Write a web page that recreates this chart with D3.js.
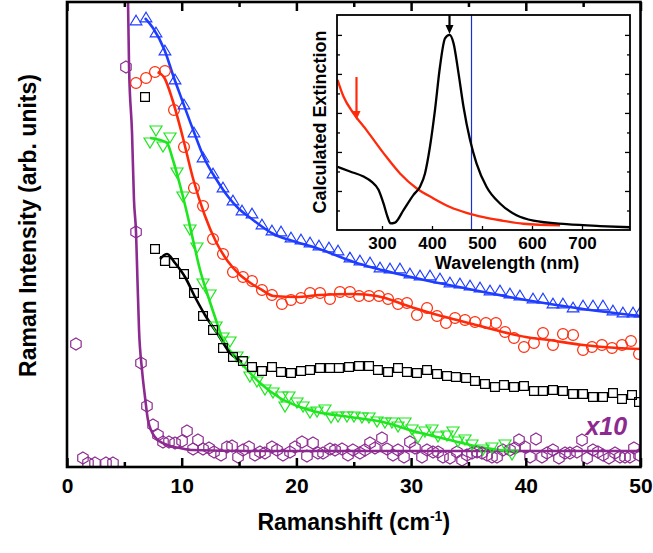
<!DOCTYPE html>
<html><head><meta charset="utf-8">
<script src="https://cdn.jsdelivr.net/npm/d3@7"></script>
<style>body{margin:0;background:#fff}svg{display:block;font-family:"Liberation Sans",Arial,sans-serif}</style>
</head><body>
<svg id="c" width="653" height="553"></svg>
<script>
// ---------- main plot data ----------
const xTicks = [0,10,20,30,40,50];
const xMinor = [5,15,25,35,45];

const blueX = [6.02,6.89,7.76,8.54,9.42,10.20,11.07,11.86,12.73,13.60,14.47,15.26,16.13,17.00,17.87,18.66,19.53,20.40,21.19,21.97,22.84,23.63,24.67,25.54,26.42,27.29,28.16,29.03,29.90,30.78,31.65,32.52,33.39,34.26,35.14,36.01,36.88,37.75,38.62,39.49,40.63,41.50,42.37,43.24,44.12,44.99,45.86,46.73,47.60,48.47,49.35,49.96];
const blueY = [4.47,4.50,4.35,4.17,3.88,3.63,3.35,3.10,2.94,2.80,2.67,2.57,2.54,2.43,2.37,2.36,2.30,2.28,2.25,2.22,2.20,2.17,2.10,2.07,2.05,2.00,1.99,1.99,1.94,1.92,1.92,1.89,1.85,1.84,1.82,1.80,1.77,1.77,1.74,1.72,1.69,1.69,1.64,1.64,1.60,1.62,1.62,1.62,1.57,1.55,1.55,1.55];
const blueFitX = [6.8,7.5,8.5,9.3,10,11,12,13,14,15,16,18,20,22,25,30,35,40,45,50];
const blueFitY = [4.49,4.39,4.17,3.90,3.68,3.37,3.08,2.88,2.71,2.58,2.49,2.33,2.25,2.18,2.05,1.90,1.78,1.67,1.58,1.51];

const redX = [6.02,6.89,7.67,8.54,9.33,10.20,11.07,11.86,12.73,13.60,14.47,15.34,16.13,17.00,17.87,18.74,19.53,20.40,21.19,22.06,22.93,23.80,24.67,25.46,26.33,27.20,27.99,28.86,29.64,30.51,31.39,32.26,33.04,33.83,34.70,35.57,36.53,37.40,38.19,38.97,39.84,40.71,41.50,42.37,43.24,44.12,44.99,45.77,46.64,47.52,48.39,49.17,49.87];
const redY = [3.84,3.89,3.95,3.96,3.57,3.20,2.79,2.61,2.28,2.13,1.95,1.90,1.86,1.77,1.72,1.63,1.67,1.69,1.74,1.74,1.68,1.75,1.75,1.71,1.71,1.71,1.68,1.63,1.64,1.52,1.59,1.51,1.44,1.49,1.47,1.45,1.44,1.44,1.35,1.29,1.20,1.24,1.34,1.22,1.33,1.32,1.17,1.20,1.22,1.19,1.22,1.26,1.13];
const redFitX = [7.9,8.5,9.2,10,11,12,13,14,15,16,17,18,20,22,25,27,30,32,34,36,38,40,42,45,48,50];
const redFitY = [3.95,3.89,3.67,3.34,2.88,2.52,2.25,2.06,1.93,1.84,1.77,1.71,1.70,1.72,1.73,1.71,1.60,1.53,1.47,1.41,1.35,1.30,1.27,1.22,1.19,1.18];

const blackX = [6.80,7.67,8.54,9.33,10.20,11.07,11.86,12.73,13.60,14.47,15.34,16.13,17.00,17.87,18.66,19.53,20.40,21.19,22.06,22.93,23.71,24.59,25.46,26.33,27.11,27.99,28.86,29.64,30.51,31.39,32.26,33.13,33.91,34.79,35.57,36.44,37.31,38.10,38.97,39.84,40.71,41.50,42.37,43.24,44.12,44.99,45.86,46.73,47.60,48.39,49.26,49.87];
const blackY = [3.70,2.18,2.06,2.04,1.93,1.74,1.51,1.37,1.19,1.10,1.06,1.00,0.96,1.00,0.95,0.94,0.96,0.97,0.99,0.99,0.99,1.00,1.01,1.01,0.97,0.95,0.99,0.95,0.94,0.97,0.93,0.91,0.90,0.89,0.86,0.83,0.80,0.82,0.80,0.81,0.76,0.76,0.77,0.76,0.73,0.73,0.70,0.70,0.74,0.68,0.72,0.65];
const blackFitX = [8.11,8.72,9.42,10.29,11.16,12.03,13.08,14.21,15.26];
const blackFitY = [2.08,2.13,2.04,1.90,1.70,1.52,1.34,1.14,1.05];

const greenX = [7.24,7.76,8.37,8.98,9.59,10.11,10.72,11.33,11.86,12.47,12.99,13.60,14.21,14.82,15.34,15.95,16.56,17.26,17.96,18.74,19.01,19.35,20.05,20.58,21.19,21.80,22.49,23.02,23.63,24.41,25.02,25.72,26.33,27.03,27.72,28.33,28.86,29.47,30.08,30.60,31.21,31.82,32.35,33.13,33.65,34.09,34.70,35.31,36.27,37.05,38.19,38.80];
const greenY = [3.24,3.36,3.20,3.29,2.94,2.70,2.37,2.19,1.83,1.72,1.40,1.29,1.25,1.10,1.05,0.90,0.85,0.77,0.74,0.70,0.60,0.70,0.64,0.60,0.54,0.55,0.57,0.49,0.50,0.50,0.50,0.49,0.49,0.45,0.44,0.44,0.40,0.44,0.37,0.29,0.35,0.37,0.30,0.31,0.35,0.25,0.27,0.22,0.17,0.19,0.22,0.12];
const greenFitX = [7.24,8.11,8.72,9.24,9.85,10.46,10.99,11.60,12.21,12.90,13.60,14.82,16.83,18.57,20.31,21.80,24.67,27.55,30.51,33.39,36.01,39.06];
const greenFitY = [3.29,3.27,3.24,3.07,2.82,2.54,2.27,1.97,1.74,1.50,1.27,1.09,0.84,0.69,0.60,0.55,0.50,0.45,0.35,0.27,0.20,0.15];

const purpleX = [0.78,1.39,1.83,2.44,3.40,4.01,5.14,6.02,6.45,6.97,7.50,7.93,8.37,8.89,9.42,10.03,10.46,10.99,11.42,11.86,12.38,12.82,13.43,13.95,14.39,14.91,15.34,15.87,16.39,16.83,17.26,17.87,18.31,18.83,19.44,19.88,20.49,20.92,21.45,21.88,22.32,22.93,23.37,23.98,24.50,24.93,25.54,25.98,26.42,26.85,27.46,27.90,28.42,28.86,29.38,29.90,30.34,30.95,31.39,31.91,32.35,32.78,33.39,34.00,34.44,34.87,35.31,35.75,36.18,36.62,37.05,37.49,38.01,38.62,39.06,39.41,39.93,40.37,40.89,41.41,41.85,42.37,42.89,43.42,43.85,44.46,44.90,45.34,45.86,46.29,46.73,47.25,47.78,48.21,48.65,49.08,49.43,49.87];
const purpleY = [1.23,0.09,0.04,0.04,0.04,0.04,4.00,2.35,1.04,0.61,0.42,0.32,0.25,0.25,0.24,0.26,0.36,0.18,0.27,0.18,0.19,0.15,0.12,0.20,0.21,0.10,0.17,0.20,0.12,0.15,0.14,0.20,0.17,0.12,0.15,0.20,0.25,0.11,0.24,0.14,0.14,0.18,0.17,0.18,0.12,0.17,0.14,0.17,0.24,0.19,0.29,0.18,0.12,0.17,0.10,0.25,0.19,0.10,0.17,0.15,0.15,0.10,0.09,0.15,0.07,0.12,0.14,0.15,0.14,0.12,0.10,0.10,0.17,0.17,0.19,0.27,0.20,0.10,0.28,0.10,0.14,0.17,0.09,0.14,0.14,0.15,0.27,0.09,0.17,0.15,0.12,0.09,0.14,0.10,0.10,0.10,0.19,0.12];
const purpleFitX = [5.32,5.41,5.67,5.84,6.02,6.10,6.28,6.54,6.80,7.06,7.67,8.72,9.85,10.99,15.95,24.67,33.39,49.96];
const purpleFitY = [4.65,4.00,3.34,2.67,2.34,2.04,1.37,0.97,0.70,0.47,0.30,0.22,0.19,0.17,0.16,0.16,0.16,0.16];

// ---------- inset data ----------
const insetTicks = [300,400,500,600,700];
const insetBlackX = [211,236,263,279,293,303,311,317,326,343,363,376,386,396,406,416,426,435,443,453,463,476,489,509,536,569,603,669,736,796];
const insetBlackY = [1.62,1.50,1.37,1.24,1.03,0.68,0.34,0.17,0.19,0.51,0.90,1.11,1.45,2.14,3.08,4.19,4.91,5.00,4.79,4.02,3.16,2.31,1.71,1.11,0.68,0.38,0.24,0.15,0.10,0.07];
const insetRedX = [211,223,243,269,303,336,369,403,436,469,503,536,583,656];
const insetRedY = [3.85,3.42,2.99,2.56,1.97,1.45,1.07,0.81,0.59,0.44,0.33,0.25,0.16,0.12];
const arrowNm = [249,435];
const arrowFrom = [3.92,5.51];
const arrowTo = [2.82,5.02];
const laserNm = 479;

// ---------- drawing ----------
const svg = d3.select('#c');
const x = d3.scaleLinear().domain([0,50]).range([67,640.5]);
const y = d3.scaleLinear().domain([0,4.65]).range([467,2]);

const C = {blue:'#1f3dff', red:'#ff2a0a', black:'#000', green:'#1ee61e', purple:'#8c2a90'};

svg.append('defs').append('clipPath').attr('id','clip').append('rect')
  .attr('x',x(0)).attr('y',y(4.65)).attr('width',x(50)-x(0)).attr('height',y(0)-y(4.65));

const plot = svg.append('g').attr('clip-path','url(#clip)');
const line = d3.line().x(d=>x(d[0])).y(d=>y(d[1])).curve(d3.curveMonotoneX);

const shapes = {
  triUp: 'M0,-4.8L5.8,4.8L-5.8,4.8Z',
  triDown: 'M0,5L6,-5L-6,-5Z',
  circle: d3.symbol(d3.symbolCircle, Math.PI*5.4*5.4)(),
  square: 'M-4.4,-4.4H4.4V4.4H-4.4Z',
  hex: (()=>{const r=6;return d3.range(6).map(i=>{const a=Math.PI/180*(-90+60*i);return (i?'L':'M')+(r*Math.cos(a)).toFixed(2)+','+(r*Math.sin(a)).toFixed(2);}).join('')+'Z';})()
};

function markers(xs,ys,color,shape){
  plot.append('g').selectAll('path').data(d3.zip(xs,ys)).join('path')
    .attr('transform',d=>`translate(${x(d[0])},${y(d[1])})`)
    .attr('d',shape).attr('fill','none').attr('stroke',color).attr('stroke-width',1.2);
}
function fit(xs,ys,color){
  plot.append('path').datum(d3.zip(xs,ys)).attr('d',line)
    .attr('fill','none').attr('stroke',color).attr('stroke-width',2.6).attr('stroke-linejoin','round');
}

fit(purpleFitX,purpleFitY,C.purple);
fit(greenFitX,greenFitY,C.green);
fit(blackFitX,blackFitY,C.black);
fit(redFitX,redFitY,C.red);
fit(blueFitX,blueFitY,C.blue);
markers(purpleX,purpleY,C.purple,shapes.hex);
markers(greenX,greenY,C.green,shapes.triDown);
markers(blackX,blackY,C.black,shapes.square);
markers(redX,redY,C.red,shapes.circle);
markers(blueX,blueY,C.blue,shapes.triUp);

// axes
const gB = svg.append('g').attr('transform',`translate(0,${y(0)})`)
  .call(d3.axisBottom(x).tickValues(xTicks).tickSize(-9).tickPadding(11).tickFormat(d3.format('d')));
gB.selectAll('text').attr('font-size',21).attr('font-weight','bold').attr('fill','#000').attr('font-family','"Liberation Sans",Arial,sans-serif');
const gBm = svg.append('g').attr('transform',`translate(0,${y(0)})`)
  .call(d3.axisBottom(x).tickValues(xMinor).tickSize(-5).tickFormat(''));
const gT = svg.append('g').attr('transform',`translate(0,${y(4.65)})`)
  .call(d3.axisTop(x).tickValues(xTicks).tickSize(-9).tickFormat(''));
const gTm = svg.append('g').attr('transform',`translate(0,${y(4.65)})`)
  .call(d3.axisTop(x).tickValues(xMinor).tickSize(-5).tickFormat(''));
[gB,gBm,gT,gTm].forEach(g=>{g.select('.domain').remove(); g.selectAll('line').attr('stroke','#000').attr('stroke-width',2.5);});

svg.append('rect').attr('x',x(0)).attr('y',y(4.65)).attr('width',x(50)-x(0)).attr('height',y(0)-y(4.65))
  .attr('fill','none').attr('stroke','#000').attr('stroke-width',2.6);

svg.append('text').attr('x',(x(0)+x(50))/2).attr('y',530).attr('text-anchor','middle')
  .attr('font-size',23).attr('font-weight','bold')
  .html('Ramanshift (cm<tspan dy="-9" font-size="14">-1</tspan><tspan dy="9">)</tspan>');
svg.append('text').attr('transform',`translate(36,${(y(0)+y(4.65))/2 - 9}) rotate(-90)`).attr('text-anchor','middle')
  .attr('font-size',23).attr('font-weight','bold').text('Raman Intensity (arb. units)');

svg.append('text').attr('x',x(45.2)).attr('y',y(0.32)).attr('font-size',25).attr('font-weight','bold')
  .attr('font-style','italic').attr('fill',C.purple).text('x10');

// ---------- inset ----------
const xi = d3.scaleLinear().domain([210,796]).range([337,630]);
const yi = d3.scaleLinear().domain([0,5.51]).range([230,15]);
const ins = svg.append('g');
ins.append('rect').attr('x',xi(210)).attr('y',yi(5.51)).attr('width',xi(796)-xi(210)).attr('height',yi(0)-yi(5.51))
  .attr('fill','#fff');
svg.append('defs').append('clipPath').attr('id','clipi').append('rect')
  .attr('x',xi(210)).attr('y',yi(5.51)).attr('width',xi(796)-xi(210)).attr('height',yi(0)-yi(5.51));
const insP = ins.append('g').attr('clip-path','url(#clipi)');
const iline = d3.line().x(d=>xi(d[0])).y(d=>yi(d[1])).curve(d3.curveMonotoneX);
insP.append('line').attr('x1',xi(laserNm)).attr('x2',xi(laserNm)).attr('y1',yi(0)).attr('y2',yi(5.51))
  .attr('stroke','#1a2fd0').attr('stroke-width',1.2);
insP.append('path').datum(d3.zip(insetRedX,insetRedY)).attr('d',iline).attr('fill','none').attr('stroke',C.red).attr('stroke-width',2.3);
insP.append('path').datum(d3.zip(insetBlackX,insetBlackY)).attr('d',iline).attr('fill','none').attr('stroke','#000').attr('stroke-width',2.3);

const arrowCol = [C.red,'#000'];
arrowNm.forEach((nm,i)=>{
  const ax = xi(nm), y0 = yi(arrowFrom[i]), y1 = yi(arrowTo[i]);
  ins.append('line').attr('x1',ax).attr('x2',ax).attr('y1',y0).attr('y2',y1-7).attr('stroke',arrowCol[i]).attr('stroke-width',2.2);
  ins.append('path').attr('d',`M${ax-4},${y1-9}L${ax+4},${y1-9}L${ax},${y1}Z`).attr('fill',arrowCol[i]);
});

const gi = ins.append('g').attr('transform',`translate(0,${yi(0)})`)
  .call(d3.axisBottom(xi).tickValues(insetTicks).tickSize(-4).tickPadding(7).tickFormat(d3.format('d')));
gi.select('.domain').remove();
gi.selectAll('line').attr('stroke','#000').attr('stroke-width',1.3);
gi.selectAll('text').attr('font-size',17).attr('font-weight','bold').attr('fill','#000').attr('font-family','"Liberation Sans",Arial,sans-serif');
const yTicksI = d3.range(0.5,5.5,0.5);
[d3.axisLeft, d3.axisRight].forEach(ax=>{
  const pos = ax===d3.axisLeft ? xi(210) : xi(796);
  const g = ins.append('g').attr('transform',`translate(${pos},0)`)
    .call(ax(yi).tickValues(yTicksI).tickSize(0).tickFormat(''));
  g.select('.domain').remove();
  g.selectAll('.tick line').attr('x2', d=> (ax===d3.axisLeft?1:-1)*(Number.isInteger(d)?5:3))
    .attr('stroke','#000').attr('stroke-width',1.3);
});
ins.append('rect').attr('x',xi(210)).attr('y',yi(5.51)).attr('width',xi(796)-xi(210)).attr('height',yi(0)-yi(5.51))
  .attr('fill','none').attr('stroke','#000').attr('stroke-width',1.8);
ins.append('text').attr('x',507).attr('y',269).attr('text-anchor','middle').attr('font-size',18).attr('font-weight','bold').text('Wavelength (nm)');
ins.append('text').attr('transform',`translate(326,122) rotate(-90)`).attr('text-anchor','middle').attr('font-size',18).attr('font-weight','bold').text('Calculated Extinction');
</script>
</body></html>
